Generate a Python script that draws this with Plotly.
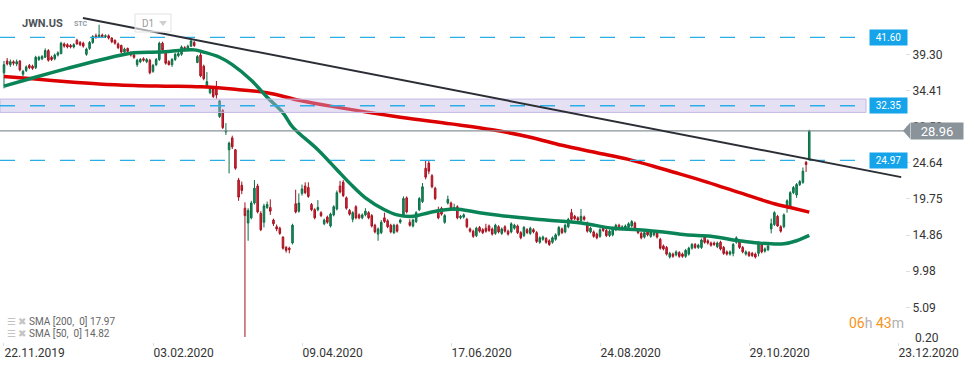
import plotly.graph_objects as go

# ---------------- data (daily candles, bar index 0 = 22.11.2019) ----------------
bar_index = list(range(255))

open_ = [
    36.8, 38.4, 37.9, 38.3, 38.0, 38.4, 36.6, 37.1, 37.8, 37.7,
    37.5, 38.6, 38.7, 38.9, 39.8, 38.9, 38.7, 39.2, 39.4, 40.7,
    40.6, 40.5, 40.3, 41.2, 40.9, 40.8, 39.3, 40.1, 40.9, 41.8,
    41.6, 41.9, 41.7, 41.8, 41.5, 41.2, 40.7, 40.5, 39.6, 40.1,
    39.5, 39.2, 37.9, 38.3, 38.7, 38.3, 38.5, 37.0, 37.9, 38.6,
    40.8, 39.7, 38.3, 37.9, 38.6, 39.1, 39.3, 40.2, 40.0, 40.4,
    40.9, 38.2, 39.2, 37.7, 34.9, 34.1, 34.8, 34.8, 30.9, 31.7,
    28.8, 26.4, 28.0, 26.4, 22.3, 21.6, 18.5, 16.5, 17.2, 19.2,
    21.5, 17.8, 16.6, 18.6, 18.6, 16.9, 16.0, 15.8, 14.6, 13.2,
    13.1, 13.8, 19.1, 18.1, 20.5, 21.5, 21.3, 19.0, 18.3, 18.3,
    17.9, 16.4, 17.3, 16.1, 17.6, 18.4, 21.5, 22.0, 19.9, 18.2,
    17.0, 18.7, 17.6, 17.2, 17.6, 17.9, 17.5, 16.2, 15.0, 15.2,
    17.2, 16.8, 16.2, 15.2, 16.2, 16.6, 17.6, 19.9, 16.6, 16.1,
    16.7, 18.3, 19.4, 23.9, 24.6, 22.9, 21.2, 17.9, 18.5, 16.6,
    19.2, 19.2, 18.3, 18.7, 17.2, 17.3, 17.0, 15.7, 15.4, 14.8,
    15.9, 15.6, 15.8, 16.1, 15.7, 15.1, 16.0, 15.1, 16.0, 15.4,
    15.3, 15.8, 16.1, 15.2, 14.8, 15.6, 15.1, 15.6, 15.2, 13.9,
    14.3, 14.4, 14.1, 13.9, 14.3, 14.9, 15.7, 15.3, 16.0, 17.9,
    17.4, 17.2, 16.8, 17.3, 16.5, 15.3, 15.3, 15.0, 14.7, 15.8,
    15.5, 14.8, 14.9, 15.6, 16.2, 15.7, 15.8, 15.9, 16.1, 16.5,
    15.6, 15.1, 14.6, 15.3, 14.7, 14.9, 15.2, 14.3, 13.4, 13.2,
    11.9, 12.3, 12.2, 12.5, 12.3, 12.0, 12.3, 13.1, 13.6, 13.2,
    13.2, 14.6, 14.1, 13.8, 13.8, 13.3, 13.9, 13.2, 12.6, 12.3,
    12.4, 13.9, 14.0, 13.2, 12.3, 12.5, 12.4, 12.3, 12.4, 13.6,
    12.7, 12.9, 15.7, 16.3, 17.4, 16.0, 16.0, 18.7, 18.8, 20.6,
    20.3, 21.7, 22.0, 24.7, 25.1,
]

high = [
    38.4, 38.8, 38.6, 38.5, 38.6, 38.5, 37.2, 37.8, 38.0, 37.9,
    39.1, 39.1, 39.2, 40.1, 40.0, 39.1, 39.4, 39.7, 41.0, 40.9,
    40.8, 40.7, 40.8, 41.4, 41.1, 41.0, 40.2, 41.1, 41.9, 42.1,
    43.3, 42.1, 42.0, 42.0, 41.6, 41.3, 40.9, 40.6, 40.2, 40.2,
    39.7, 39.4, 38.7, 38.8, 38.9, 38.8, 38.7, 38.0, 38.8, 41.0,
    41.0, 39.8, 38.5, 38.8, 39.5, 39.6, 40.5, 40.4, 40.6, 41.4,
    41.1, 39.2, 39.5, 37.9, 36.9, 34.9, 35.0, 35.7, 33.2, 31.9,
    30.0, 27.5, 28.3, 26.5, 22.6, 22.1, 19.3, 18.5, 19.5, 22.3,
    21.8, 18.1, 19.1, 19.4, 19.7, 17.1, 16.3, 16.0, 14.7, 13.4,
    13.3, 16.4, 21.0, 20.5, 21.7, 22.0, 22.0, 19.2, 18.5, 19.6,
    18.1, 17.1, 17.5, 17.9, 18.9, 20.9, 22.2, 22.3, 20.1, 18.4,
    18.1, 18.9, 17.8, 17.8, 18.5, 18.1, 17.7, 16.4, 15.9, 16.9,
    17.9, 17.0, 16.4, 16.4, 16.4, 17.1, 20.1, 20.1, 17.0, 17.1,
    18.1, 20.0, 21.9, 25.0, 25.0, 23.1, 21.4, 18.7, 18.7, 17.7,
    20.2, 19.4, 19.1, 18.9, 17.6, 17.8, 17.2, 15.9, 15.6, 16.0,
    16.1, 15.8, 16.4, 16.3, 15.9, 16.4, 16.2, 15.9, 16.2, 15.6,
    16.6, 16.4, 16.3, 15.4, 16.1, 15.8, 16.0, 15.8, 15.4, 14.7,
    14.8, 14.6, 14.3, 14.7, 15.1, 16.1, 15.9, 16.4, 17.2, 18.4,
    17.6, 17.4, 18.4, 17.5, 16.7, 16.0, 15.5, 15.2, 15.8, 16.0,
    15.7, 15.6, 16.0, 16.4, 16.4, 16.2, 16.3, 16.6, 16.9, 16.7,
    15.8, 15.3, 15.4, 15.5, 15.5, 15.4, 15.4, 14.5, 13.6, 13.4,
    12.6, 12.5, 12.8, 12.7, 12.5, 13.0, 13.3, 13.8, 13.8, 13.7,
    14.4, 14.8, 14.3, 14.0, 14.0, 14.0, 14.1, 13.4, 12.8, 12.8,
    13.8, 14.7, 14.2, 13.4, 12.8, 12.7, 12.6, 12.5, 14.0, 13.8,
    13.2, 13.6, 17.1, 18.1, 17.6, 16.2, 17.8, 19.7, 20.8, 21.5,
    21.9, 22.3, 24.0, 24.9, 29.1,
]

low = [
    34.7, 37.8, 37.6, 37.8, 37.7, 37.0, 36.3, 36.9, 37.3, 37.2,
    37.3, 38.4, 38.5, 38.8, 38.3, 38.4, 38.5, 39.0, 39.3, 40.2,
    40.1, 40.1, 40.1, 40.6, 40.4, 40.2, 39.1, 39.9, 40.7, 41.4,
    41.5, 41.5, 41.5, 41.3, 40.8, 40.6, 40.0, 39.4, 39.4, 39.5,
    39.0, 38.7, 37.6, 38.1, 38.3, 38.1, 36.6, 36.8, 37.7, 38.4,
    39.7, 37.9, 37.8, 37.6, 38.4, 38.9, 39.1, 39.7, 39.8, 40.3,
    40.3, 38.1, 36.2, 35.8, 34.7, 33.9, 33.4, 33.3, 30.7, 29.2,
    28.4, 23.2, 26.5, 23.7, 19.5, 20.4, 1.1, 14.1, 17.0, 19.0,
    17.8, 15.4, 15.9, 18.4, 17.6, 16.1, 15.4, 14.9, 12.9, 12.5,
    12.4, 13.6, 17.8, 17.9, 20.2, 20.4, 19.9, 18.1, 17.0, 18.1,
    17.3, 16.2, 16.4, 15.9, 17.4, 18.2, 20.5, 20.0, 18.3, 17.5,
    16.6, 17.0, 17.0, 17.0, 17.4, 17.0, 15.9, 15.1, 14.1, 15.0,
    16.5, 15.8, 15.1, 15.0, 15.2, 16.4, 17.4, 17.8, 16.0, 15.9,
    16.5, 18.1, 19.2, 22.4, 23.1, 21.2, 19.6, 17.0, 17.5, 16.4,
    19.0, 18.3, 18.1, 17.0, 17.0, 17.1, 15.8, 15.2, 14.5, 14.6,
    15.2, 15.0, 15.2, 15.3, 14.8, 14.9, 15.1, 14.9, 15.2, 14.8,
    15.1, 15.6, 15.0, 14.3, 14.6, 15.0, 14.9, 15.1, 13.8, 13.7,
    14.1, 13.7, 13.4, 13.7, 14.1, 14.7, 15.0, 15.1, 15.8, 16.8,
    16.9, 16.7, 16.6, 16.8, 15.2, 15.1, 14.5, 14.3, 14.5, 15.3,
    14.6, 14.6, 14.7, 15.4, 15.5, 15.5, 15.6, 15.7, 15.9, 15.6,
    15.0, 14.3, 14.4, 14.7, 14.5, 14.7, 14.4, 12.9, 12.8, 12.1,
    11.7, 11.8, 12.0, 11.8, 11.8, 11.8, 12.1, 12.9, 13.0, 13.0,
    13.0, 13.7, 13.6, 13.3, 13.4, 13.1, 12.8, 12.2, 12.1, 12.1,
    12.0, 13.7, 13.0, 12.4, 12.1, 11.9, 11.9, 11.7, 12.0, 12.4,
    12.5, 12.7, 15.1, 16.1, 16.0, 15.2, 15.8, 17.9, 18.6, 20.4,
    19.9, 21.5, 21.8, 23.4, 24.9,
]

close = [
    37.9, 38.0, 38.3, 38.1, 38.3, 37.2, 37.0, 37.6, 37.5, 37.4,
    38.9, 38.9, 39.0, 39.8, 38.5, 38.6, 39.2, 39.5, 40.8, 40.4,
    40.3, 40.3, 40.6, 40.7, 40.6, 40.4, 40.0, 40.9, 41.7, 41.6,
    41.9, 41.7, 41.8, 41.5, 41.0, 40.8, 40.2, 39.6, 40.0, 39.7,
    39.2, 38.9, 38.5, 38.6, 38.5, 38.6, 36.8, 37.8, 38.6, 40.8,
    39.9, 38.1, 37.9, 38.6, 39.3, 39.4, 40.3, 39.9, 40.4, 41.1,
    40.5, 39.0, 36.4, 36.0, 35.6, 34.8, 33.6, 33.8, 33.0, 29.4,
    29.0, 27.3, 26.8, 23.9, 20.0, 20.9, 17.5, 18.2, 19.2, 21.2,
    18.0, 15.6, 18.8, 19.0, 18.1, 16.4, 15.7, 15.1, 13.1, 12.8,
    12.9, 16.2, 18.0, 19.2, 21.1, 20.6, 20.1, 18.3, 17.2, 18.6,
    17.5, 16.9, 16.6, 17.7, 18.7, 20.6, 20.7, 20.2, 18.5, 17.7,
    17.9, 17.2, 17.2, 17.6, 18.1, 17.2, 16.1, 15.3, 15.7, 16.6,
    16.7, 16.0, 15.3, 16.2, 15.4, 16.9, 19.8, 18.0, 16.2, 16.9,
    17.9, 19.8, 21.4, 22.7, 23.5, 21.4, 19.8, 17.2, 17.7, 17.5,
    19.7, 18.5, 18.6, 17.2, 17.4, 17.6, 16.0, 15.4, 14.7, 15.8,
    15.4, 15.2, 15.4, 15.5, 15.0, 16.2, 15.3, 15.7, 15.4, 15.0,
    16.4, 16.2, 15.2, 14.5, 15.9, 15.2, 15.8, 15.3, 14.0, 14.5,
    14.6, 13.9, 13.6, 14.5, 14.9, 15.9, 15.2, 16.2, 17.0, 17.0,
    17.1, 16.9, 17.4, 17.0, 15.4, 15.8, 14.7, 14.5, 15.6, 15.5,
    14.8, 15.4, 15.8, 16.2, 15.7, 16.0, 16.1, 16.4, 16.7, 15.8,
    15.2, 14.5, 15.2, 14.9, 15.3, 15.2, 14.6, 13.1, 13.0, 12.3,
    12.4, 12.0, 12.6, 12.0, 12.0, 12.8, 13.1, 13.6, 13.2, 13.5,
    14.2, 13.9, 13.8, 13.5, 13.6, 13.8, 13.0, 12.4, 12.3, 12.6,
    13.6, 14.5, 13.2, 12.6, 12.6, 12.1, 12.1, 11.9, 13.8, 12.6,
    13.0, 13.4, 16.4, 17.9, 16.1, 15.4, 17.6, 19.5, 20.6, 21.3,
    21.7, 22.1, 23.5, 24.4, 28.96,
]

# moving averages (bar index -> value)
sma200_idx = [0, 9, 20, 30, 41, 51, 62, 72, 83, 93, 103, 125, 141, 154, 166,
              176, 187, 197, 207, 211, 222, 232, 243, 248, 254]
sma200_val = [36.3, 36.0, 35.6, 35.3, 35.1, 35.0, 34.9, 34.6, 34.1, 33.1, 32.3,
              30.8, 29.9, 29.1, 28.1, 27.0, 26.0, 25.1, 23.9, 23.4, 22.0, 20.6,
              19.1, 18.6, 17.97]
sma50_idx = [0, 9, 20, 30, 41, 49, 60, 63, 68, 72, 78, 83, 88, 91, 99, 105, 109,
             114, 120, 124, 129, 134, 142, 150, 161, 171, 182, 192, 200, 208, 215,
             223, 232, 238, 246, 250, 254]
sma50_val = [35.0, 36.1, 37.4, 38.5, 39.5, 39.6, 39.9, 39.6, 38.9, 37.9, 35.8,
             33.5, 31.4, 29.5, 26.4, 23.7, 21.9, 19.9, 18.3, 17.6, 17.4, 17.9,
             18.4, 17.9, 17.3, 16.9, 16.5, 15.8, 15.6, 15.3, 14.9, 14.7, 14.1,
             13.8, 13.7, 14.1, 14.82]

# drawn objects
trend_idx = [24.9, 283.0]
trend_val = [44.2, 22.7]
levels = [41.60, 32.35, 24.97]
zone = [31.45, 33.25]
last_price = 28.96

# axes
x_tick_idx = [0, 47, 94, 141, 188, 235, 282]
x_tick_text = ["22.11.2019", "03.02.2020", "09.04.2020", "17.06.2020",
               "24.08.2020", "29.10.2020", "23.12.2020"]
y_tick_vals = [5.09, 9.98, 14.86, 19.75, 24.64, 29.53, 34.41, 39.30]
y_tick_text = ["5.09", "9.98", "14.86", "19.75", "24.64", "29.53", "34.41", "39.30"]

FONT = "Roboto"
W, H = 974, 368
PLOT_W, PLOT_H = 905, 342

fig = go.Figure()
fig.add_trace(go.Candlestick(
    x=bar_index, open=open_, high=high, low=low, close=close,
    increasing=dict(line=dict(color="#0b6e45", width=1), fillcolor="#15915d"),
    decreasing=dict(line=dict(color="#a3121f", width=1), fillcolor="#e0283a"),
    showlegend=False, hoverinfo="skip"))
fig.add_trace(go.Scatter(x=sma200_idx, y=sma200_val, mode="lines",
                         line=dict(color="#dc0000", width=3.5, shape="spline"),
                         showlegend=False, hoverinfo="skip"))
fig.add_trace(go.Scatter(x=sma50_idx, y=sma50_val, mode="lines",
                         line=dict(color="#0a8457", width=3.5, shape="spline"),
                         showlegend=False, hoverinfo="skip"))

shapes = []
# zone band
shapes.append(dict(type="rect", xref="paper", yref="y", x0=0, x1=866 / PLOT_W,
                   y0=zone[0], y1=zone[1], fillcolor="rgba(196,180,232,0.42)",
                   line=dict(color="#c4b8e4", width=1), layer="above"))
# dashed levels
for v in levels:
    shapes.append(dict(type="line", xref="paper", yref="y", x0=0, x1=860 / PLOT_W,
                       y0=v, y1=v, line=dict(color="#2aaee8", width=1.3, dash="15px,15px"),
                       layer="above"))
# last price line
shapes.append(dict(type="line", xref="paper", yref="y", x0=0, x1=1, y0=last_price,
                   y1=last_price, line=dict(color="#8a9399", width=1.2), layer="above"))
# trendline
shapes.append(dict(type="line", xref="x", yref="y", x0=trend_idx[0], x1=trend_idx[1],
                   y0=trend_val[0], y1=trend_val[1],
                   line=dict(color="#2b2f35", width=2), layer="above"))
# price tag arrow
tip = 903 / PLOT_W
bx = 910 / PLOT_W
shapes.append(dict(type="path", xref="paper", yref="y",
                   path=f"M {tip},{last_price} L {bx},{last_price + 1.08} L {bx},{last_price - 1.08} Z",
                   fillcolor="#8a9399", line=dict(width=0), layer="above"))
# D1 box
shapes.append(dict(type="rect", xref="paper", yref="paper",
                   x0=135 / PLOT_W, x1=171 / PLOT_W, y0=1 - 32 / PLOT_H, y1=1 - 14 / PLOT_H,
                   line=dict(color="#e2e2e2", width=1), fillcolor="rgba(255,255,255,0.6)",
                   layer="above"))
shapes.append(dict(type="path", xref="paper", yref="paper",
                   path=f"M {159/PLOT_W},{1-21/PLOT_H} L {167/PLOT_W},{1-21/PLOT_H} L {163/PLOT_W},{1-26/PLOT_H} Z",
                   fillcolor="#cfcfcf", line=dict(width=0), layer="above"))

ann = []
for v in levels:
    ann.append(dict(xref="paper", yref="y", x=869 / PLOT_W, y=v, xanchor="left",
                    yanchor="middle", text=f"{v:.2f}", showarrow=False,
                    font=dict(family=FONT, size=10, color="white"),
                    bgcolor="#15a4ea", width=35, height=13, borderpad=1))
ann.append(dict(xref="paper", yref="y", x=bx, y=last_price, xanchor="left",
                yanchor="middle", text=f"{last_price:.2f}", showarrow=False,
                font=dict(family=FONT, size=13, color="white"),
                bgcolor="#8a9399", width=50, height=14, borderpad=1))
ann.append(dict(xref="paper", yref="paper", x=913 / PLOT_W, y=1 - 338 / PLOT_H,
                xanchor="left", yanchor="middle", text="0.20", showarrow=False,
                font=dict(family=FONT, size=12, color="#333333")))
ann.append(dict(xref="paper", yref="paper", x=20 / PLOT_W, y=1 - 23 / PLOT_H,
                xanchor="left", yanchor="middle", text="<b>JWN.US</b>", showarrow=False,
                font=dict(family=FONT, size=11, color="#4d5359")))
ann.append(dict(xref="paper", yref="paper", x=72 / PLOT_W, y=1 - 24 / PLOT_H,
                xanchor="left", yanchor="middle", text="<b>STC</b>", showarrow=False,
                font=dict(family=FONT, size=7, color="#8e99a3")))
ann.append(dict(xref="paper", yref="paper", x=140 / PLOT_W, y=1 - 23 / PLOT_H,
                xanchor="left", yanchor="middle", text="D1", showarrow=False,
                font=dict(family=FONT, size=10, color="#9a9a9a")))
ann.append(dict(xref="paper", yref="paper", x=5 / PLOT_W, y=1 - 321.5 / PLOT_H,
                xanchor="left", yanchor="middle", showarrow=False,
                text='<span style="color:#c4c4c4">☰ ✖</span> SMA [200,  0] 17.97',
                font=dict(family=FONT, size=10, color="#666666")))
ann.append(dict(xref="paper", yref="paper", x=5 / PLOT_W, y=1 - 333 / PLOT_H,
                xanchor="left", yanchor="middle", showarrow=False,
                text='<span style="color:#c4c4c4">☰ ✖</span> SMA [50,  0] 14.82',
                font=dict(family=FONT, size=10, color="#666666")))
ann.append(dict(xref="paper", yref="paper", x=906 / PLOT_W, y=1 - 323 / PLOT_H,
                xanchor="right", yanchor="middle", showarrow=False,
                text='<span style="color:#f7941d">06</span><span style="color:#b0b0b0">h</span> '
                     '<span style="color:#f7941d">43</span><span style="color:#b0b0b0">m</span>',
                font=dict(family=FONT, size=14, color="#f7941d")))

fig.update_layout(
    width=W, height=H, margin=dict(l=0, r=W - PLOT_W, t=0, b=H - PLOT_H),
    paper_bgcolor="white", plot_bgcolor="white",
    shapes=shapes, annotations=ann, showlegend=False,
    font=dict(family=FONT, size=12, color="#333333"),
    xaxis=dict(range=[-1.26, 284.2], rangeslider=dict(visible=False),
               tickmode="array", tickvals=x_tick_idx, ticktext=x_tick_text,
               ticks="outside", ticklen=3, tickcolor="#dddddd",
               ticklabelposition="outside right",
               showgrid=False, zeroline=False, showline=False,
               tickfont=dict(family=FONT, size=12, color="#333333")),
    yaxis=dict(range=[0.42, 46.64], side="right", tickmode="array",
               tickvals=y_tick_vals, ticktext=y_tick_text,
               ticks="outside", ticklen=4, tickcolor="#dddddd",
               showgrid=False, zeroline=False, showline=False,
               tickfont=dict(family=FONT, size=12, color="#333333")),
)

fig.write_html("out.html", config={"displayModeBar": False},
               post_script="document.body.style.margin='0';document.body.style.overflow='hidden';")
